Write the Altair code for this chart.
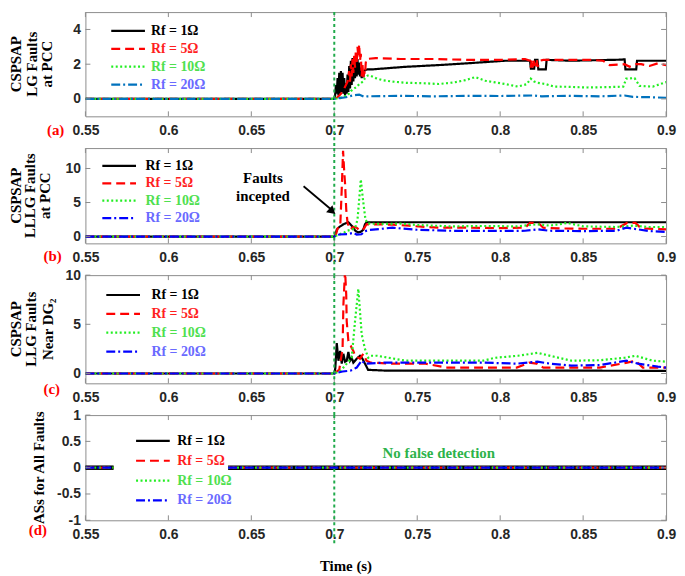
import json
import altair as alt
import pandas as pd

SANS = "Liberation Sans"
SERIF = "Liberation Serif"

SERIES = ["Rf = 1Ω", "Rf = 5Ω", "Rf = 10Ω", "Rf = 20Ω"]
X_TICKS = [0.55, 0.6, 0.65, 0.7, 0.75, 0.8, 0.85, 0.9]
FAULT_T = [0.7]

Y_TITLE_A = ["CSPSAP", "LG Faults", "at PCC"]
Y_TITLE_B = ["CSPSAP", "LLLG Faults", "at PCC"]
Y_TITLE_C = ["CSPSAP", "LLG Faults", "Near DG₂"]
Y_TITLE_D = ["ASs for All Faults"]

# ---------------- panel (a): LG faults at PCC ----------------
A_BLACK = [(0.55, 0), (0.7, 0), (0.7005, 0.2), (0.701, 0.8), (0.7015, 0.3), (0.702, 1.2), (0.7025, 0.2),
           (0.703, 1.5), (0.7035, 0.3), (0.704, 1.6), (0.7045, 0.4), (0.705, 1.5), (0.7055, 0.3),
           (0.706, 1.2), (0.7065, 0.2), (0.707, 0.9), (0.7075, 0.3), (0.708, 1.4), (0.7085, 0.4),
           (0.709, 1.9), (0.7095, 0.6), (0.71, 2.2), (0.7105, 0.8), (0.711, 2.35), (0.7115, 1.0),
           (0.712, 2.4), (0.7125, 1.2), (0.713, 2.45), (0.7135, 1.3), (0.714, 2.3), (0.7145, 1.4),
           (0.715, 2.1), (0.7155, 1.3), (0.716, 1.8), (0.7165, 1.2), (0.717, 1.5), (0.7175, 1.25),
           (0.718, 1.6), (0.7185, 1.65), (0.72, 1.7), (0.7225, 1.7), (0.743, 1.85), (0.763, 1.95),
           (0.78, 2.05), (0.803, 2.2), (0.818, 2.2), (0.8185, 1.75), (0.8205, 1.75), (0.821, 2.25),
           (0.8225, 2.25), (0.823, 1.7), (0.8275, 1.7), (0.828, 2.25), (0.8427, 2.2), (0.8725, 2.26),
           (0.875, 2.28), (0.8755, 1.7), (0.882, 1.7), (0.8825, 2.2), (0.9, 2.2)]
A_RED = [(0.55, 0), (0.7, 0), (0.702, 0.1), (0.704, 0.3), (0.706, 0.6), (0.708, 1.0), (0.709, 1.6),
         (0.7095, 1.0), (0.71, 2.0), (0.7105, 1.3), (0.711, 2.3), (0.7115, 1.5), (0.712, 2.5),
         (0.7125, 1.8), (0.713, 2.8), (0.7135, 2.0), (0.714, 3.0), (0.7145, 2.4), (0.715, 3.15),
         (0.7155, 2.2), (0.716, 2.6), (0.7165, 1.3), (0.717, 2.0), (0.7175, 1.2), (0.718, 1.6),
         (0.7185, 1.4), (0.719, 2.1), (0.7195, 2.3), (0.725, 2.35), (0.74, 2.3), (0.76, 2.3),
         (0.78, 2.25), (0.8, 2.25), (0.815, 2.3), (0.818, 2.2), (0.8185, 1.8), (0.819, 2.3),
         (0.8195, 1.8), (0.82, 2.25), (0.821, 1.9), (0.822, 2.3), (0.8225, 1.85), (0.824, 2.2),
         (0.826, 2.25), (0.84, 2.25), (0.855, 2.25), (0.862, 2.2), (0.866, 1.95), (0.875, 2.0),
         (0.878, 1.85), (0.882, 2.0), (0.885, 2.0), (0.89, 1.9), (0.895, 2.05), (0.9, 1.95)]
A_GREEN = [(0.55, 0), (0.7, 0), (0.7035, 0.05), (0.706, 0.15), (0.708, 0.2), (0.71, 0.45), (0.712, 0.6),
           (0.7135, 0.7), (0.715, 0.85), (0.7173, 1.0), (0.7185, 1.2), (0.7202, 1.35), (0.7214, 1.35),
           (0.725, 1.2), (0.729, 1.08), (0.735, 1.0), (0.7433, 0.93), (0.755, 0.9), (0.763, 0.86),
           (0.772, 0.95), (0.779, 1.08), (0.785, 1.26), (0.791, 1.05), (0.797, 0.95), (0.803, 0.86),
           (0.8107, 0.71), (0.816, 0.85), (0.8184, 1.17), (0.8205, 1.0), (0.8225, 0.93), (0.8273, 0.86),
           (0.8326, 0.71), (0.84, 0.7), (0.8524, 0.66), (0.865, 0.68), (0.8742, 0.71), (0.876, 1.17),
           (0.881, 1.2), (0.884, 0.75), (0.892, 0.71), (0.9, 0.97)]
A_BLUE = [(0.55, 0), (0.7, 0), (0.703, 0.05), (0.707, 0.1), (0.711, 0.2), (0.715, 0.25), (0.718, 0.12),
          (0.72, 0.15), (0.74, 0.18), (0.76, 0.15), (0.78, 0.18), (0.8, 0.17), (0.82, 0.2), (0.825, 0.15),
          (0.84, 0.18), (0.86, 0.15), (0.875, 0.2), (0.88, 0.12), (0.89, 0.1), (0.9, 0.07)]

# ---------------- panel (b): LLLG faults at PCC ----------------
B_BLACK = [(0.55, 0), (0.7, 0), (0.7006, 0.2), (0.7015, 1.0), (0.703, 1.4), (0.7055, 1.8), (0.7085, 2.1),
           (0.7105, 1.6), (0.7125, 0.9), (0.7143, 0.6), (0.716, 0.7), (0.7175, 1.0), (0.7185, 1.8),
           (0.7194, 2.1), (0.9, 2.1)]
B_RED = [(0.55, 0), (0.7, 0), (0.701, 0.3), (0.702, 1.2), (0.7036, 1.5), (0.7045, 7.0), (0.7053, 12.6),
         (0.706, 9.5), (0.7065, 7.8), (0.7072, 4.0), (0.708, 2.0), (0.7095, 1.06), (0.7115, 1.4),
         (0.7135, 1.3), (0.7155, 0.87), (0.718, 1.2), (0.7194, 1.8), (0.725, 1.8), (0.735, 1.75),
         (0.745, 1.6), (0.755, 1.4), (0.765, 1.3), (0.78, 1.3), (0.8, 1.25), (0.815, 1.3), (0.818, 2.0),
         (0.823, 2.0), (0.826, 1.3), (0.835, 1.2), (0.85, 1.15), (0.87, 1.15), (0.8765, 2.0),
         (0.8815, 2.0), (0.885, 1.2), (0.9, 1.06)]
B_GREEN = [(0.55, 0), (0.7, 0), (0.703, 0.3), (0.706, 0.6), (0.708, 0.87), (0.711, 1.06), (0.7125, 1.2),
           (0.714, 2.5), (0.715, 5.4), (0.716, 8.4), (0.7173, 5.4), (0.7188, 2.5), (0.7202, 1.9),
           (0.73, 1.85), (0.74, 1.9), (0.75, 1.7), (0.77, 1.5), (0.79, 1.55), (0.81, 1.5), (0.8225, 1.8),
           (0.83, 1.6), (0.8405, 2.0), (0.85, 1.5), (0.87, 1.4), (0.88, 1.6), (0.89, 1.4), (0.9, 1.4)]
B_BLUE = [(0.55, 0), (0.7, 0), (0.703, 0.3), (0.708, 0.35), (0.7115, 0.55), (0.7135, 0.3), (0.7164, 0.34),
          (0.7185, 0.8), (0.7215, 0.97), (0.735, 1.3), (0.75, 1.0), (0.77, 0.85), (0.8, 0.82),
          (0.815, 0.85), (0.8225, 1.06), (0.83, 0.85), (0.85, 0.8), (0.87, 0.85), (0.876, 1.3),
          (0.882, 1.1), (0.89, 0.8), (0.9, 0.68)]

# ---------------- panel (c): LLG faults near DG2 ----------------
C_BLACK = [(0.55, 0), (0.7, 0), (0.7006, 0.5), (0.7015, 3.1), (0.7025, 1.3), (0.7035, 2.3), (0.7045, 1.0),
           (0.7055, 2.0), (0.7065, 1.2), (0.7075, 1.3), (0.7085, 2.2), (0.7095, 1.3), (0.7105, 1.6),
           (0.7115, 1.1), (0.7135, 1.5), (0.7155, 1.8), (0.717, 1.5), (0.7185, 1.0), (0.7204, 0.37),
           (0.73, 0.3), (0.8, 0.3), (0.9, 0.27)]
C_RED = [(0.55, 0), (0.7, 0), (0.703, 0.4), (0.705, 2.5), (0.7055, 7.0), (0.7065, 10.5), (0.7072, 8.0),
         (0.7075, 5.3), (0.7085, 3.3), (0.7095, 3.0), (0.7105, 2.6), (0.7115, 2.3), (0.7125, 1.8),
         (0.7155, 1.5), (0.7175, 2.0), (0.7194, 1.3), (0.722, 1.1), (0.735, 1.0), (0.755, 1.0),
         (0.768, 0.6), (0.79, 0.6), (0.81, 0.6), (0.8175, 1.1), (0.822, 1.0), (0.826, 0.6), (0.86, 0.6),
         (0.8765, 1.1), (0.8815, 1.3), (0.886, 0.6), (0.9, 0.6)]
C_GREEN = [(0.55, 0), (0.7, 0), (0.704, 0.3), (0.7075, 1.0), (0.7105, 1.6), (0.7125, 5.3), (0.7145, 8.6),
           (0.7155, 6.3), (0.7165, 4.0), (0.7185, 2.5), (0.7205, 1.6), (0.722, 1.8), (0.7259, 1.8),
           (0.743, 1.3), (0.77, 1.3), (0.7897, 1.3), (0.797, 1.6), (0.8107, 1.8), (0.8225, 2.1),
           (0.8326, 1.7), (0.843, 1.3), (0.86, 1.35), (0.875, 1.6), (0.8815, 1.8), (0.892, 1.3), (0.9, 1.2)]
C_BLUE = [(0.55, 0), (0.7, 0), (0.705, 0.2), (0.71, 0.3), (0.7135, 0.6), (0.7165, 1.3), (0.7185, 1.0),
          (0.73, 1.1), (0.76, 1.1), (0.79, 1.1), (0.81, 1.0), (0.8225, 1.2), (0.83, 1.0), (0.843, 0.8),
          (0.86, 0.85), (0.876, 1.3), (0.883, 1.0), (0.895, 0.7), (0.9, 0.6)]

# ---------------- panel (d): assessment signals (line hidden behind legend box) ----------------
D_SEG_1 = [(0.55, 0), (0.567, 0)]
D_SEG_2 = [(0.636, 0), (0.9, 0)]

# annotations
B_NOTE = [(0.657, 8.6, "Faults"), (0.657, 5.95, "incepted")]
B_ARROW = [(0.6815, 7.4), (0.6985, 3.9)]
B_HEAD = [(0.6988, 3.7)]
D_NOTE = [(0.763, 0.28, "No false detection")]

# ---------------- styles ----------------
COL_ABC = ["#000000", "#ff0000", "#22ee22", "#0000ff"]
COL_A = ["#000000", "#ff0000", "#22ee22", "#0072bd"]
LABEL_COLORS = ["#000000", "#ff1f1f", "#4fe04f", "#6a6aff"]
DASHES = [[1, 0], [9, 5], [2, 2.5], [9, 3, 2, 3]]
GRID_GRAY = "#8c8c8c"
W = 585
SPACING = 32

LABEL_COLOR_EXPR = (json.dumps(LABEL_COLORS) + "[indexof(" + json.dumps(SERIES, ensure_ascii=False)
                    + ", datum.value)]")
ASCII_MINUS = "replace(datum.label, '\u2212', '-')"


def make_df(series_segments):
    rows = []
    i = 0
    for name, segments in zip(SERIES, series_segments):
        for s, seg in enumerate(segments):
            for t, v in seg:
                rows.append({"series": name, "key": f"{name}-{s}", "t": t, "v": v, "i": i})
                i += 1
    return pd.DataFrame(rows)


def panel(df, ydom, yticks, ytitle, title_xs, h, colors, leg, tag, tag_pos, extras, last=False,
          rule_below=SPACING, widths=None):
    xs = alt.Scale(domain=[0.55, 0.9], nice=False, zero=False)
    ys = alt.Scale(domain=ydom, nice=False, zero=False)
    legend = alt.Legend(
        orient="none", legendX=leg[0], legendY=leg[1], title=None,
        symbolType="M-3,0L3,0", symbolSize=128, symbolStrokeWidth=2.2,
        labelFont=SERIF, labelFontWeight="bold", labelFontSize=14,
        labelColor=alt.ExprRef(expr=LABEL_COLOR_EXPR), labelOffset=leg[3],
        rowPadding=leg[2], padding=0, labelLimit=0,
    )
    xaxis_kw = dict(values=X_TICKS, format="~g", labelFlush=False, labelOverlap=False, ticks=False,
                    domain=False, grid=False, labelPadding=7)
    if last:
        xaxis = alt.Axis(title="Time (s)", titleX=262, titlePadding=18, **xaxis_kw)
    else:
        xaxis = alt.Axis(title=None, **xaxis_kw)
    yaxis = alt.Axis(values=yticks, format=".2~f", labelExpr=ASCII_MINUS, labelFlush=False,
                     labelOverlap=False, ticks=False, domain=False, grid=False, labelPadding=5, title=None)
    X = lambda: alt.X("t:Q", scale=xs, axis=xaxis)
    Y = lambda: alt.Y("v:Q", scale=ys, axis=yaxis)
    enc = dict(
        x=X(), y=Y(),
        color=alt.Color("series:N", scale=alt.Scale(domain=SERIES, range=colors), legend=legend),
        strokeDash=alt.StrokeDash("series:N", scale=alt.Scale(domain=SERIES, range=DASHES), legend=legend),
        detail="key:N",
        order="i:Q",
    )
    lines = alt.Chart(df).mark_line(clip=True, strokeWidth=2.2).encode(**enc)
    layers = [lines]
    if widths is not None:
        # thicker black line drawn underneath for panel (d)
        black = df[df["series"] == SERIES[0]]
        under = alt.Chart(black).mark_line(color="black", strokeWidth=widths).encode(
            x=X(), y=Y(), detail="key:N", order="i:Q")
        layers = [under, lines]

    xt = alt.Chart(pd.DataFrame({"t": X_TICKS}))
    layers.append(xt.mark_rule(color=GRID_GRAY).encode(x=X(), y=alt.value(h), y2=alt.value(h - 5)))
    layers.append(xt.mark_rule(color=GRID_GRAY).encode(x=X(), y=alt.value(0), y2=alt.value(5)))
    yt = alt.Chart(pd.DataFrame({"v": yticks}))
    layers.append(yt.mark_rule(color=GRID_GRAY).encode(y=Y(), x=alt.value(0), x2=alt.value(5)))
    layers.append(yt.mark_rule(color=GRID_GRAY).encode(y=Y(), x=alt.value(W - 5), x2=alt.value(W)))

    layers.append(alt.Chart(pd.DataFrame({"t": FAULT_T})).mark_rule(
        color="#1faa4a", strokeDash=[3, 3], strokeWidth=2).encode(
        x=X(), y=alt.value(0), y2=alt.value(h + rule_below)))

    layers.append(alt.Chart(pd.DataFrame({"tag": [tag]})).mark_text(
        font=SERIF, fontWeight="bold", fontSize=15, color="#ff0000").encode(
        text="tag:N", x=alt.value(tag_pos[0]), y=alt.value(h + tag_pos[1])))

    # rotated y-axis title lines
    for line, tx in zip(ytitle, title_xs):
        layers.append(alt.Chart(pd.DataFrame({"txt": [line]})).mark_text(
            font=SERIF, fontWeight="bold", fontSize=15, color="black", angle=270,
            align="center", baseline="middle").encode(
            text="txt:N", x=alt.value(tx), y=alt.value(h / 2)))

    for make in extras:
        layers.append(make(X, Y))

    return alt.layer(*layers).properties(width=W, height=h)


def b_extras():
    def note(X, Y):
        d = pd.DataFrame(B_NOTE, columns=["t", "v", "txt"])
        return alt.Chart(d).mark_text(font=SERIF, fontWeight="bold", fontSize=15, color="black").encode(
            x=X(), y=Y(), text="txt:N")

    def arrow(X, Y):
        d = pd.DataFrame(B_ARROW, columns=["t", "v"])
        return alt.Chart(d).mark_line(color="black", strokeWidth=1.8).encode(x=X(), y=Y())

    def head(X, Y):
        d = pd.DataFrame(B_HEAD, columns=["t", "v"])
        return alt.Chart(d).mark_point(shape="triangle-right", angle=42, filled=True, size=90,
                                       color="black", opacity=1).encode(x=X(), y=Y())
    return [note, arrow, head]


def d_extras():
    def note(X, Y):
        d = pd.DataFrame(D_NOTE, columns=["t", "v", "txt"])
        return alt.Chart(d).mark_text(font=SERIF, fontWeight="bold", fontSize=15, color="#2db34a").encode(
            x=X(), y=Y(), text="txt:N")
    return [note]


df_a = make_df([[A_BLACK], [A_RED], [A_GREEN], [A_BLUE]])
df_b = make_df([[B_BLACK], [B_RED], [B_GREEN], [B_BLUE]])
df_c = make_df([[C_BLACK], [C_RED], [C_GREEN], [C_BLUE]])
df_d = make_df([[D_SEG_1, D_SEG_2]] * 4)

pa = panel(df_a, [-1, 5], [0, 2, 4], Y_TITLE_A, [-70, -54, -39], 105, COL_A,
           (36, 12, 4, 16), "(a)", (-30, 14), [])
pb = panel(df_b, [-1, 13], [0, 5, 10], Y_TITLE_B, [-70, -56, -41], 96, COL_ABC,
           (27, 11, 3.5, 19.5), "(b)", (-33, 13), b_extras())
pc = panel(df_c, [-1, 10], [0, 5, 10], Y_TITLE_C, [-70, -55, -38], 109, COL_ABC,
           (31, 13, 5, 21.5), "(c)", (-34, 6), [])
pd_ = panel(df_d, [-1, 1], [-1, -0.5, 0, 0.5, 1], Y_TITLE_D, [-47], 106, COL_ABC,
            (61, 19, 6, 17.5), "(d)", (-48, 10), d_extras(), last=True, rule_below=26, widths=4.5)

chart = alt.vconcat(pa, pb, pc, pd_, spacing=SPACING, bounds="flush").resolve_scale(
    color="independent", strokeDash="independent"
).properties(padding=0).configure_view(
    stroke=GRID_GRAY, strokeWidth=1
).configure_axis(
    labelFont=SANS, labelFontWeight="bold", labelFontSize=14, labelColor="#262626",
    titleFont=SERIF, titleFontWeight="bold", titleFontSize=15, titleColor="#000000"
)

chart.save("out.html", embed_options={"renderer": "svg", "actions": False})
